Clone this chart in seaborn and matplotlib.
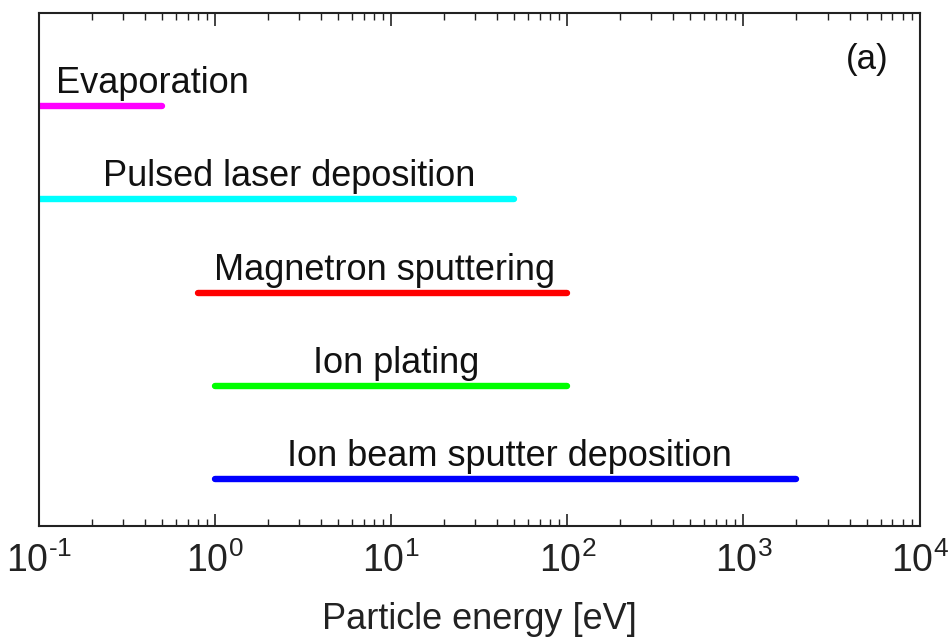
import pandas as pd
import matplotlib
matplotlib.use("Agg")
import matplotlib.pyplot as plt
import seaborn as sns
from matplotlib.ticker import FuncFormatter

# deposition techniques and their particle energy ranges [eV]
methods = ["Evaporation", "Pulsed laser deposition", "Magnetron sputtering",
           "Ion plating", "Ion beam sputter deposition"]
e_low = [0.1, 0.1, 0.8, 1.0, 1.0]
e_high = [0.5, 50, 100, 100, 2000]
levels = [5, 4, 3, 2, 1]
colors = ["#ff00ff", "#00ffff", "#ff0000", "#00ff00", "#0000ff"]
# where the labels sit along x
label_x = [0.44, 2.65, 9.2, 10.7, 47]
x_ticks = [0.1, 1, 10, 100, 1000, 10000]
x_exps = ["-1", "0", "1", "2", "3", "4"]

sns.set_style("white")
plt.rcParams["font.family"] = ["Liberation Sans", "DejaVu Sans"]
plt.rcParams["mathtext.fontset"] = "custom"
plt.rcParams["mathtext.rm"] = "Liberation Sans"
plt.rcParams["mathtext.it"] = "Liberation Sans"

rows = []
for m, lo, hi, lv in zip(methods, e_low, e_high, levels):
    rows.append({"method": m, "energy": lo, "level": lv})
    rows.append({"method": m, "energy": hi, "level": lv})
df = pd.DataFrame(rows)

fig = plt.figure(figsize=(9.5, 6.42), dpi=100)
ax = fig.add_axes([0.041, 0.181, 0.927, 0.799])

sns.lineplot(data=df, x="energy", y="level", hue="method", hue_order=methods,
             palette=colors, estimator=None, sort=False, linewidth=4.6,
             solid_capstyle="round", legend=False, ax=ax)

ax.set_xscale("log")
ax.set_xlim(0.1, 1e4)
ax.set_ylim(0.5, 6.0)

for m, lv, lx in zip(methods, levels, label_x):
    ax.text(lx, lv + 0.14, m, ha="center", va="baseline", fontsize=26, color="#111111")

ax.text(0.94, 0.91, "(a)", transform=ax.transAxes, ha="center", va="center",
        fontsize=25, color="#111111")

ax.set_xticks(x_ticks)
ax.xaxis.set_major_formatter(FuncFormatter(
    lambda v, p: r"$10^{\text{%s}}$" % x_exps[x_ticks.index(v)] if v in x_ticks else ""))
ax.set_yticks([])
ax.set_ylabel("")
ax.set_xlabel("Particle energy [eV]", fontsize=26, labelpad=16, color="#222222")
ax.tick_params(axis="x", which="both", direction="in", top=True, bottom=True,
               labelsize=27, colors="#222222", pad=12)
ax.tick_params(axis="x", which="major", length=9, width=1.2)
ax.tick_params(axis="x", which="minor", length=5, width=1.0)
for s in ax.spines.values():
    s.set_color("#222222")
    s.set_linewidth(1.5)

fig.savefig("out.png", dpi=100)
